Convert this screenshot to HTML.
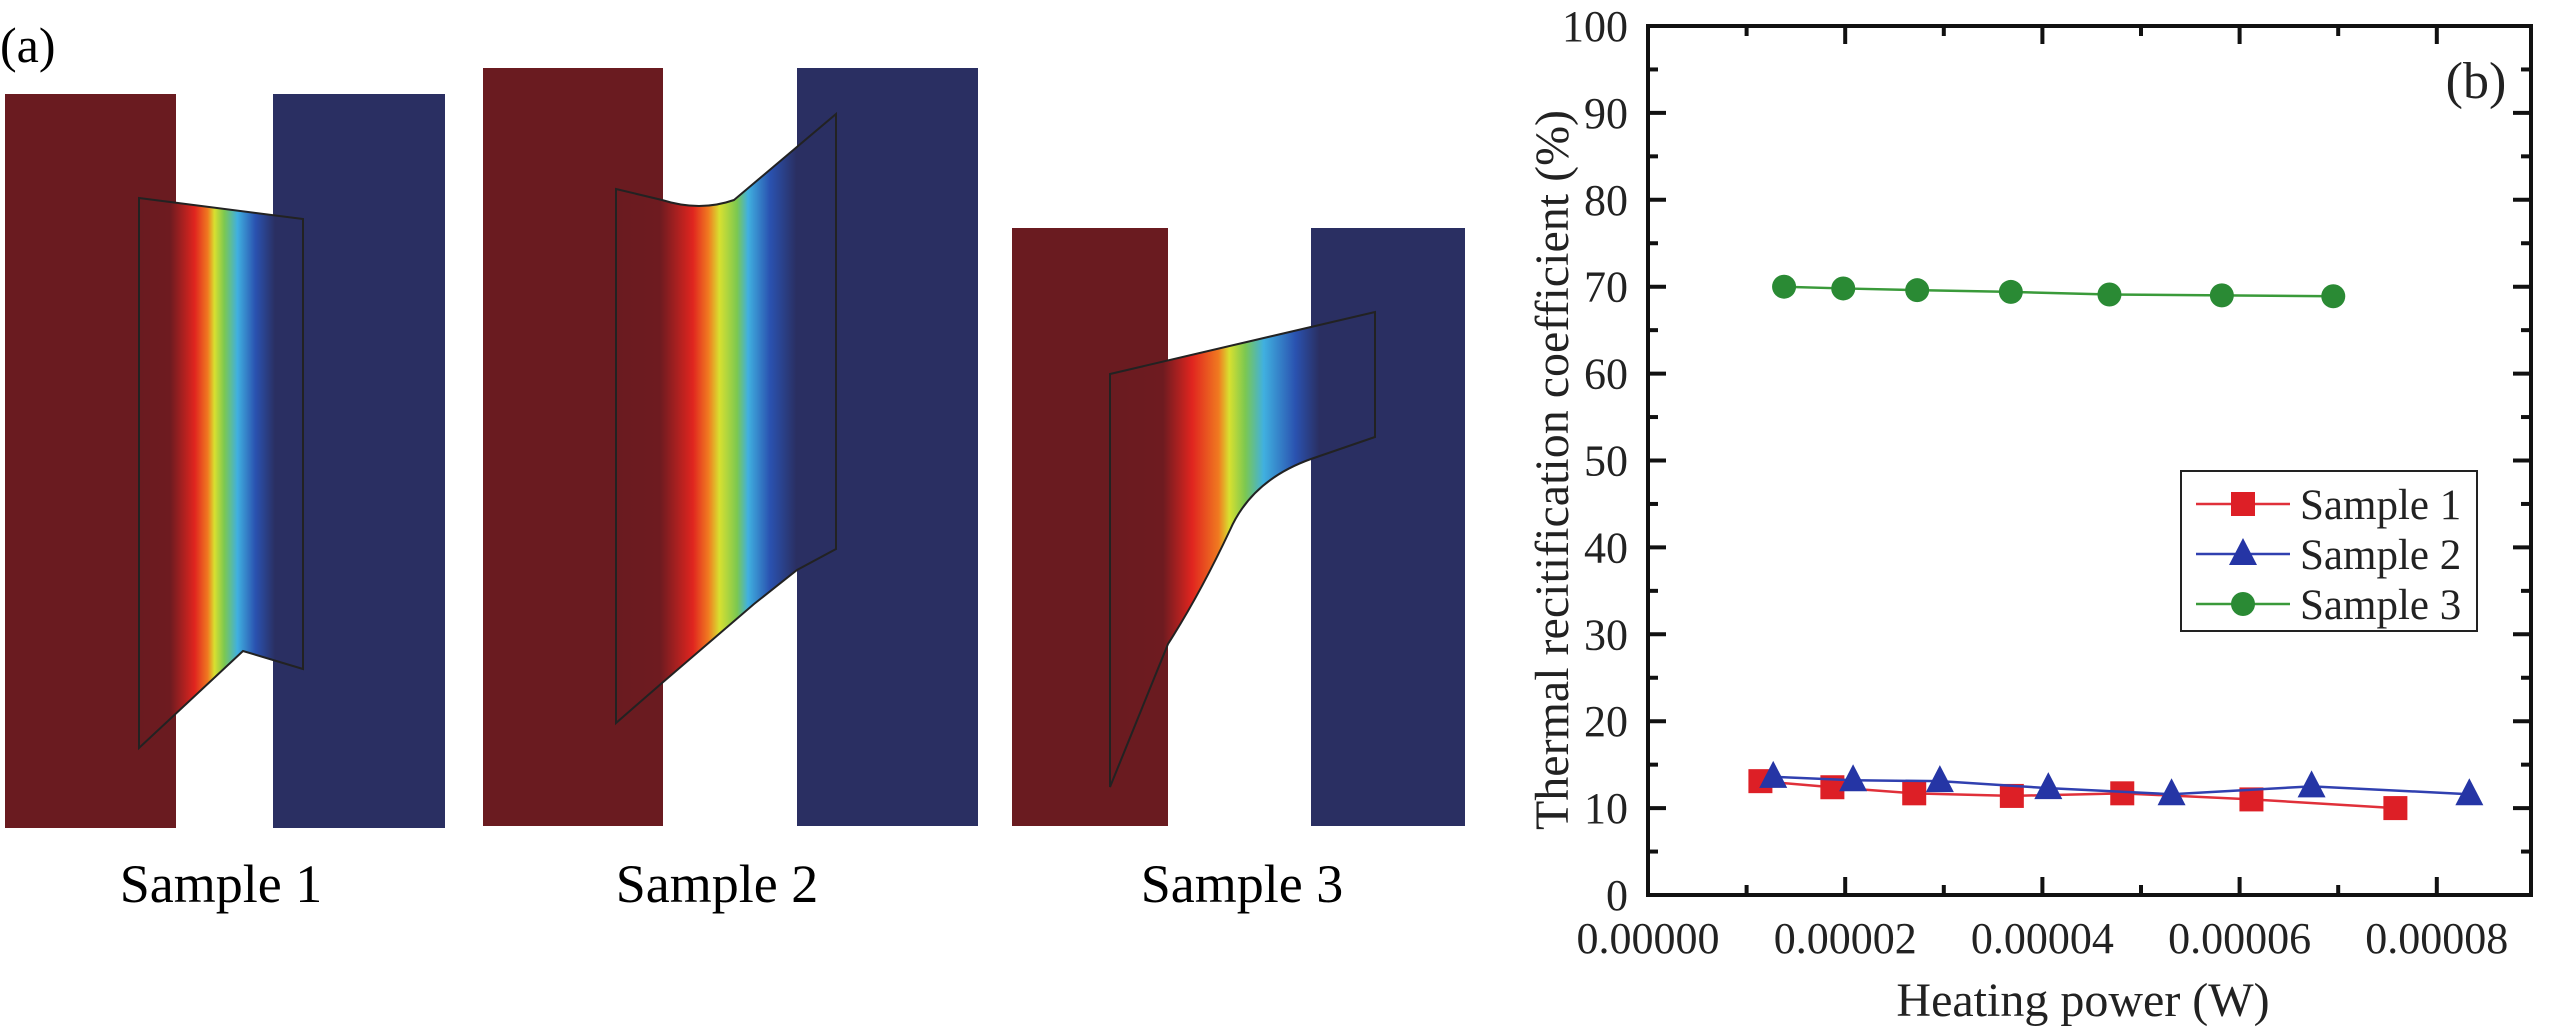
<!DOCTYPE html>
<html><head><meta charset="utf-8"><style>
html,body{margin:0;padding:0;background:#fff;}
svg{display:block;}
text{font-family:"Liberation Serif","DejaVu Serif",serif;}
</style></head><body>
<svg id="root" width="2559" height="1033" viewBox="0 0 2559 1033" font-family="Liberation Serif, DejaVu Serif, serif">
<defs>
<linearGradient id="g1" gradientUnits="userSpaceOnUse" x1="139" y1="0" x2="303" y2="0">
<stop offset="0" stop-color="#6a1b20"/><stop offset="0.19" stop-color="#6e1b20"/><stop offset="0.34" stop-color="#e0251f"/><stop offset="0.42" stop-color="#f07a20"/><stop offset="0.46" stop-color="#d8e030"/><stop offset="0.52" stop-color="#7cc850"/><stop offset="0.6" stop-color="#40b0e0"/><stop offset="0.71" stop-color="#2a52b0"/><stop offset="0.83" stop-color="#2a2f62"/><stop offset="1" stop-color="#2a2f62"/>
</linearGradient>
<linearGradient id="g2" gradientUnits="userSpaceOnUse" x1="616" y1="0" x2="836" y2="0">
<stop offset="0" stop-color="#6a1b20"/><stop offset="0.2" stop-color="#6e1b20"/><stop offset="0.35" stop-color="#e0251f"/><stop offset="0.42" stop-color="#f07a20"/><stop offset="0.47" stop-color="#d8e030"/><stop offset="0.55" stop-color="#7cc850"/><stop offset="0.6" stop-color="#40b0e0"/><stop offset="0.7" stop-color="#2a52b0"/><stop offset="0.82" stop-color="#2a2f62"/><stop offset="1" stop-color="#2a2f62"/>
</linearGradient>
<linearGradient id="g3" gradientUnits="userSpaceOnUse" x1="1110" y1="0" x2="1375" y2="0">
<stop offset="0" stop-color="#6a1b20"/><stop offset="0.2" stop-color="#6e1b20"/><stop offset="0.31" stop-color="#e0251f"/><stop offset="0.41" stop-color="#f07a20"/><stop offset="0.45" stop-color="#d8e030"/><stop offset="0.51" stop-color="#7cc850"/><stop offset="0.58" stop-color="#40b0e0"/><stop offset="0.7" stop-color="#2a52b0"/><stop offset="0.79" stop-color="#2a2f62"/><stop offset="1" stop-color="#2a2f62"/>
</linearGradient>
</defs>

<g>
<text x="0" y="62" font-size="50">(a)</text>
<g>
<rect x="5" y="94" width="171" height="734" fill="#6a1b20"/>
<rect x="273" y="94" width="172" height="734" fill="#2a2f62"/>
<polygon points="139,198 303,219 303,669 243,651 139,748" fill="url(#g1)" stroke="#222" stroke-width="2"/>
</g>
<g>
<rect x="483" y="68" width="180" height="758" fill="#6a1b20"/>
<rect x="797" y="68" width="181" height="758" fill="#2a2f62"/>
<path d="M616,189 L662,200 Q700,212 734,200 L836,114 L836,549 L797,570 L754,604 L662,683 L616,723 Z" fill="url(#g2)" stroke="#222" stroke-width="2"/>
</g>
<g>
<rect x="1012" y="228" width="156" height="598" fill="#6a1b20"/>
<rect x="1311" y="228" width="154" height="598" fill="#2a2f62"/>
<path d="M1110,374 L1375,312 L1375,437 L1311,459 Q1252,480 1230,530 Q1200,594 1168,644 L1110,787 Z" fill="url(#g3)" stroke="#222" stroke-width="2"/>
</g>
<text x="221" y="902" font-size="54" text-anchor="middle">Sample 1</text>
<text x="717" y="902" font-size="54" text-anchor="middle">Sample 2</text>
<text x="1242" y="902" font-size="54" text-anchor="middle">Sample 3</text>
</g>

<g id="chart"></g>
</svg>
<script>
const xTicks = [0, 2e-5, 4e-5, 6e-5, 8e-5];
const xTickLabels = ["0.00000", "0.00002", "0.00004", "0.00006", "0.00008"];
const yTicks = [0, 10, 20, 30, 40, 50, 60, 70, 80, 90, 100];
const seriesNames = ["Sample 1", "Sample 2", "Sample 3"];
const s1x = [1.14e-5, 1.87e-5, 2.70e-5, 3.69e-5, 4.81e-5, 6.12e-5, 7.58e-5];
const s1y = [13.1, 12.4, 11.7, 11.4, 11.7, 11.0, 10.0];
const s2x = [1.27e-5, 2.08e-5, 2.96e-5, 4.06e-5, 5.31e-5, 6.73e-5, 8.33e-5];
const s2y = [13.6, 13.2, 13.1, 12.3, 11.6, 12.5, 11.6];
const s3x = [1.38e-5, 1.98e-5, 2.73e-5, 3.68e-5, 4.68e-5, 5.82e-5, 6.95e-5];
const s3y = [70.0, 69.8, 69.6, 69.4, 69.1, 69.0, 68.9];

const NS = "http://www.w3.org/2000/svg";
const g = document.getElementById("chart");
const L = 1648, R = 2531, T = 26, B = 895;
const X = v => L + v / 1e-5 * 98.6;
const Y = v => B - v / 100 * (B - T);
function mk(tag, attrs, parent) {
  const e = document.createElementNS(NS, tag);
  for (const k in attrs) e.setAttribute(k, attrs[k]);
  (parent || g).appendChild(e);
  return e;
}
let e;
e = mk("rect", {x: L, y: T, width: R - L, height: B - T, fill: "none", stroke: "#111", "stroke-width": 4});


for (let i = 1; i <= 8; i++) {
  const v = i * 1e-5; const x = X(v); const len = i % 2 === 0 ? 18 : 10;
  e = mk("line", {x1: x, y1: B, x2: x, y2: B - len, stroke: "#111", "stroke-width": 4});
  
  
  e = mk("line", {x1: x, y1: T, x2: x, y2: T + len, stroke: "#111", "stroke-width": 4});
  
  
}
xTicks.forEach((v, i) => {
  e = mk("text", {x: X(v), y: B + 58, "font-size": 44, "text-anchor": "middle", fill: "#222"});
  e.textContent = xTickLabels[i];
  
  
});
for (let i = 0; i <= 20; i++) {
  const v = i * 5; const y = Y(v); const len = i % 2 === 0 ? 18 : 10;
  e = mk("line", {x1: L, y1: y, x2: L + len, y2: y, stroke: "#111", "stroke-width": 4});
  
  
  e = mk("line", {x1: R, y1: y, x2: R - len, y2: y, stroke: "#111", "stroke-width": 4});
  
  
}
yTicks.forEach(v => {
  e = mk("text", {x: L - 20, y: Y(v) + 15, "font-size": 44, "text-anchor": "end", fill: "#222"});
  e.textContent = String(v);
  
  
});
e = mk("text", {x: 2083, y: 1016, "font-size": 48, "text-anchor": "middle", fill: "#222"});
e.textContent = "Heating power (W)";


e = mk("text", {x: 0, y: 0, "font-size": 48, "text-anchor": "middle", fill: "#222", transform: "translate(1568,470) rotate(-90)"});
e.textContent = "Thermal recitification coefficient (%)";


e = mk("text", {x: 2476, y: 98, "font-size": 52, "text-anchor": "middle", fill: "#222"});
e.textContent = "(b)";



function marker(kind, x, y, color, parent) {
  let m;
  if (kind === "sq") m = mk("rect", {x: x - 12, y: y - 12, width: 24, height: 24, fill: color}, parent);
  else if (kind === "tri") m = mk("polygon", {points: `${x},${y - 16} ${x - 14},${y + 11} ${x + 14},${y + 11}`, fill: color}, parent);
  else m = mk("circle", {cx: x, cy: y, r: 12, fill: color}, parent);
  return m;
}
const cfg = [
  {xs: s1x, ys: s1y, kind: "sq", line: "#e0303a", fill: "#dd1f26", name: "sample-1"},
  {xs: s3x, ys: s3y, kind: "circ", line: "#3a9a3a", fill: "#2a8a34", name: "sample-3"},
  {xs: s2x, ys: s2y, kind: "tri", line: "#3040b0", fill: "#2535a5", name: "sample-2"}
];
cfg.forEach(c => {
  const sg = mk("g", {});
  
  
  const pts = c.xs.map((v, i) => X(v) + "," + Y(c.ys[i])).join(" ");
  e = mk("polyline", {points: pts, fill: "none", stroke: c.line, "stroke-width": 2.5}, sg);
  
  
  c.xs.forEach((v, i) => {
    e = marker(c.kind, X(v), Y(c.ys[i]), c.fill, sg);
    
    
  });
});
const lg = mk("g", {});


e = mk("rect", {x: 2181, y: 471, width: 296, height: 160, fill: "#fff", stroke: "#222", "stroke-width": 2}, lg);


const legKinds = [["sq", "#e0303a", "#dd1f26"], ["tri", "#3040b0", "#2535a5"], ["circ", "#3a9a3a", "#2a8a34"]];
seriesNames.forEach((n, i) => {
  const y = 504 + i * 50;
  const eg = mk("g", {}, lg);
  
  
  mk("line", {x1: 2196, y1: y, x2: 2290, y2: y, stroke: legKinds[i][1], "stroke-width": 2.5}, eg);
  marker(legKinds[i][0], 2243, y, legKinds[i][2], eg);
  const t = mk("text", {x: 2300, y: y + 15, "font-size": 43, fill: "#222"}, eg);
  t.textContent = n;
});
</script>
</body></html>
